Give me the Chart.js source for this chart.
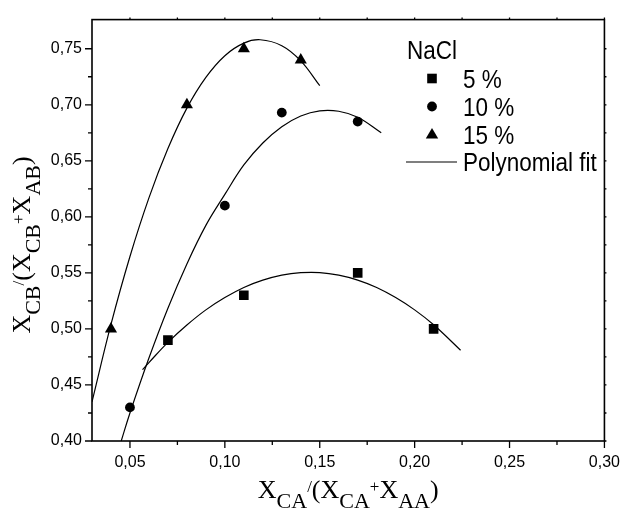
<!DOCTYPE html>
<html lang="en">
<head>
    <meta charset="UTF-8">
    <title>NaCl polynomial fit</title>
    <script src="https://cdn.jsdelivr.net/npm/chart.js"></script>
    <style>
        body {
            margin: 0;
            padding: 0;
            background-color: #fff;
        }
        .chart-box {
            width: 632px;
            height: 511px;
            position: relative;
        }
    </style>
</head>
<body>
    <div class="chart-box">
        <canvas id="chart"></canvas>
    </div>

    <script>
        // measured points
        const x5 = [0.07, 0.11, 0.17, 0.21];
        const y5 = [0.49, 0.53, 0.55, 0.50];
        const x10 = [0.05, 0.10, 0.13, 0.17];
        const y10 = [0.43, 0.61, 0.693, 0.685];
        const x15 = [0.04, 0.08, 0.11, 0.14];
        const y15 = [0.50, 0.70, 0.75, 0.74];

        // polynomial fit curves
        const fit5X = [0.0566, 0.06, 0.07, 0.08, 0.09, 0.10, 0.11, 0.12, 0.13, 0.14, 0.15, 0.16, 0.17, 0.18, 0.19, 0.20, 0.21, 0.2242];
        const fit5Y = [0.4636, 0.470, 0.488, 0.5035, 0.517, 0.528, 0.537, 0.5435, 0.548, 0.5502, 0.5503, 0.548, 0.5436, 0.537, 0.528, 0.517, 0.5037, 0.481];
        const fit10X = [0.0454, 0.05, 0.06, 0.07, 0.08, 0.09, 0.10, 0.11, 0.12, 0.13, 0.14, 0.15, 0.16, 0.17, 0.1824];
        const fit10Y = [0.400, 0.425, 0.474, 0.5185, 0.558, 0.5924, 0.620, 0.6463, 0.6659, 0.6804, 0.690, 0.6946, 0.6942, 0.6888, 0.675];
        const fit15X = [0.03, 0.04, 0.05, 0.06, 0.07, 0.08, 0.09, 0.10, 0.11, 0.1186, 0.13, 0.14, 0.15];
        const fit15Y = [0.435, 0.504, 0.5646, 0.6169, 0.6609, 0.697, 0.7244, 0.7438, 0.755, 0.758, 0.7527, 0.7392, 0.717];

        const seriesLabels = ['5 %', '10 %', '15 %'];
        const fitLabel = 'Polynomial fit';
        const legendTitle = 'NaCl';

        const xMajor = [0.05, 0.10, 0.15, 0.20, 0.25, 0.30];
        const xMinor = [0.075, 0.125, 0.175, 0.225, 0.275];
        const yMajor = [0.40, 0.45, 0.50, 0.55, 0.60, 0.65, 0.70, 0.75];
        const yMinor = [0.425, 0.475, 0.525, 0.575, 0.625, 0.675, 0.725];

        const pts = (xs, ys) => xs.map((v, i) => ({ x: v, y: ys[i] }));
        const fmt = v => v.toFixed(2).replace('.', ',');

        const SANS = '"Liberation Sans", Arial, sans-serif';
        const SERIF = '"Liberation Serif", "Times New Roman", serif';

        function drawRich(ctx, parts, x, y) {
            let total = 0;
            parts.forEach(p => {
                ctx.font = p.f + 'px ' + SERIF;
                p.w = ctx.measureText(p.t).width;
                total += p.w;
            });
            let cx = x - total / 2;
            ctx.textAlign = 'left';
            ctx.textBaseline = 'alphabetic';
            parts.forEach(p => {
                ctx.font = p.f + 'px ' + SERIF;
                ctx.fillText(p.t, cx, y + p.dy);
                cx += p.w;
            });
        }

        const framePlugin = {
            id: 'frame',
            afterDraw(chart) {
                const { ctx, chartArea: a, scales: { x, y } } = chart;
                ctx.save();
                ctx.strokeStyle = '#000';
                ctx.lineWidth = 1.6;
                ctx.strokeRect(a.left, a.top, a.right - a.left, a.bottom - a.top);

                ctx.lineWidth = 1.3;
                ctx.beginPath();
                const tickX = (vals, len) => vals.forEach(v => {
                    const p = x.getPixelForValue(v);
                    ctx.moveTo(p, a.bottom); ctx.lineTo(p, a.bottom + len);
                    ctx.moveTo(p, a.top); ctx.lineTo(p, a.top - 2);
                });
                const tickY = (vals, len) => vals.forEach(v => {
                    const p = y.getPixelForValue(v);
                    ctx.moveTo(a.left, p); ctx.lineTo(a.left - len, p);
                    ctx.moveTo(a.right, p); ctx.lineTo(a.right + 2, p);
                });
                tickX(xMajor, 7);
                tickX(xMinor, 4);
                tickY(yMajor, 7);
                tickY(yMinor, 4);
                ctx.stroke();

                // legend
                ctx.fillStyle = '#000';
                ctx.textAlign = 'left';
                ctx.textBaseline = 'alphabetic';
                ctx.font = '22.5px ' + SANS;
                const txt = (s, tx, rowY) => {
                    ctx.save();
                    ctx.translate(tx, rowY + 9);
                    ctx.scale(1, 1.13);
                    ctx.fillText(s, 0, 0);
                    ctx.restore();
                };
                txt(legendTitle, 407, 50);
                const rows = [78.5, 106.5, 134.5, 162];
                const sx = 432;
                ctx.fillRect(sx - 4.8, rows[0] - 4.8, 9.6, 9.6);
                ctx.beginPath();
                ctx.arc(sx, rows[1], 4.9, 0, Math.PI * 2);
                ctx.fill();
                ctx.beginPath();
                ctx.moveTo(sx, rows[2] - 6.5);
                ctx.lineTo(sx + 6.2, rows[2] + 4);
                ctx.lineTo(sx - 6.2, rows[2] + 4);
                ctx.closePath();
                ctx.fill();
                ctx.lineWidth = 1.2;
                ctx.beginPath();
                ctx.moveTo(406, rows[3]); ctx.lineTo(457, rows[3]);
                ctx.stroke();
                seriesLabels.forEach((s, i) => txt(s, 463, rows[i]));
                txt(fitLabel, 463, rows[3]);

                // axis titles with subscripts
                const cxMid = (a.left + a.right) / 2;
                drawRich(ctx, [
                    { t: 'X', f: 26, dy: 0 }, { t: 'CA', f: 22, dy: 10 }, { t: '/', f: 17, dy: -6 },
                    { t: '(', f: 26, dy: 0 }, { t: 'X', f: 26, dy: 0 }, { t: 'CA', f: 22, dy: 10 },
                    { t: '+', f: 17, dy: -6 }, { t: 'X', f: 26, dy: 0 }, { t: 'AA', f: 22, dy: 10 },
                    { t: ')', f: 26, dy: 0 }
                ], cxMid, 498);

                ctx.translate(30, 245);
                ctx.rotate(-Math.PI / 2);
                drawRich(ctx, [
                    { t: 'X', f: 26, dy: 0 }, { t: 'CB', f: 22, dy: 10 }, { t: '/', f: 17, dy: -6 },
                    { t: '(', f: 26, dy: 0 }, { t: 'X', f: 26, dy: 0 }, { t: 'CB', f: 22, dy: 10 },
                    { t: '+', f: 17, dy: -6 }, { t: 'X', f: 26, dy: 0 }, { t: 'AB', f: 22, dy: 10 },
                    { t: ')', f: 26, dy: 0 }
                ], 0, 0);
                ctx.restore();
            }
        };

        Chart.defaults.color = '#000';
        Chart.defaults.font.family = SANS;

        const fitStyle = {
            showLine: true,
            pointRadius: 0,
            borderColor: '#000',
            borderWidth: 1.2,
            tension: 0.4,
            fill: false
        };

        new Chart(document.getElementById('chart').getContext('2d'), {
            type: 'scatter',
            data: {
                datasets: [
                    { label: seriesLabels[0], data: pts(x5, y5), pointStyle: 'rect', pointRadius: 6.8, backgroundColor: '#000', borderColor: '#000', borderWidth: 0 },
                    { label: seriesLabels[1], data: pts(x10, y10), pointStyle: 'circle', pointRadius: 4.9, backgroundColor: '#000', borderColor: '#000', borderWidth: 0 },
                    { label: seriesLabels[2], data: pts(x15, y15), pointStyle: 'triangle', pointRadius: 7, backgroundColor: '#000', borderColor: '#000', borderWidth: 0 },
                    { label: fitLabel, data: pts(fit5X, fit5Y), ...fitStyle },
                    { label: fitLabel, data: pts(fit10X, fit10Y), ...fitStyle },
                    { label: fitLabel, data: pts(fit15X, fit15Y), ...fitStyle }
                ]
            },
            options: {
                responsive: true,
                maintainAspectRatio: false,
                animation: false,
                layout: { padding: { left: 0, top: 16, right: 19, bottom: 0 } },
                plugins: { legend: { display: false }, tooltip: { enabled: false } },
                scales: {
                    x: {
                        type: 'linear',
                        min: 0.03,
                        max: 0.30,
                        afterBuildTicks: s => { s.ticks = xMajor.map(v => ({ value: v })); },
                        afterFit: s => { s.height = 70; },
                        grid: { display: false, drawTicks: false },
                        border: { display: false },
                        ticks: { padding: 12, font: { size: 16 }, callback: v => fmt(v), maxRotation: 0 }
                    },
                    y: {
                        type: 'linear',
                        min: 0.40,
                        max: 0.776,
                        afterBuildTicks: s => { s.ticks = yMajor.map(v => ({ value: v })); },
                        afterFit: s => { s.width = 92; },
                        grid: { display: false, drawTicks: false },
                        border: { display: false },
                        ticks: { padding: 10, font: { size: 16 }, callback: v => fmt(v) }
                    }
                }
            },
            plugins: [framePlugin]
        });
    </script>
</body>
</html>
